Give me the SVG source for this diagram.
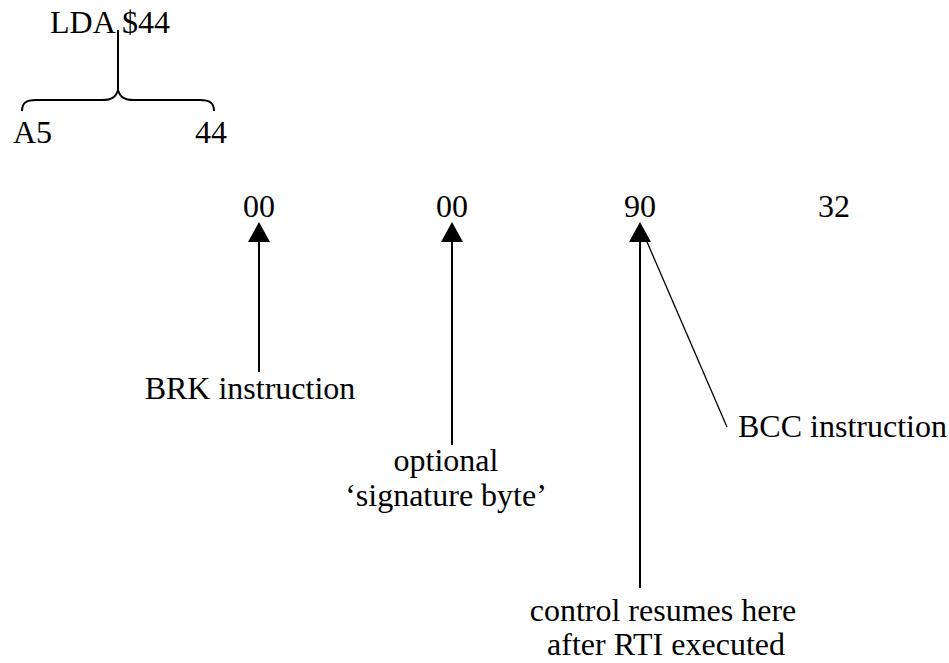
<svg xmlns="http://www.w3.org/2000/svg" width="949" height="663" viewBox="0 0 949 663">
<defs>
<style>
text{font-family:"Liberation Serif","Times New Roman",serif;font-size:32px;fill:#000}
.c{text-anchor:middle}
.ln{stroke:#000;stroke-width:2;fill:none}
.thin{stroke:#000;stroke-width:1.3;fill:none}
</style>
<marker id="ah" viewBox="0 0 20 22" refX="18" refY="11" markerWidth="20" markerHeight="22" markerUnits="userSpaceOnUse" orient="auto">
<path d="M0,0 L20,11 L0,22 Z" fill="#000"/>
</marker>
</defs>
<g id="lda">
<text x="50" y="33">LDA $44</text>
</g>
<g id="brace">
<path class="ln" d="M118,30 V92"/>
<path class="ln" d="M22,111 C22,103 26,100 36,100 H102 C112,100 116,97 118,90 C120,97 124,100 134,100 H200 C210,100 214,103 214,111"/>
</g>
<g id="a5"><text x="13" y="143">A5</text></g>
<g id="b44"><text x="195" y="143">44</text></g>
<g id="byte1"><text class="c" x="259" y="217">00</text></g>
<g id="byte2"><text class="c" x="452" y="217">00</text></g>
<g id="byte3"><text class="c" x="640" y="217">90</text></g>
<g id="byte4"><text class="c" x="834" y="217">32</text></g>
<g id="brk"><text class="c" x="250" y="399">BRK instruction</text></g>
<g id="sig"><text class="c" x="446" y="471">optional</text><text class="c" x="446" y="506">‘signature byte’</text></g>
<g id="bcc"><text x="738" y="437">BCC instruction</text></g>
<g id="ctrl"><text class="c" x="663" y="621">control resumes here</text><text class="c" x="666" y="655">after RTI executed</text></g>
<g id="connectors">
<line class="ln" x1="259" y1="372" x2="259" y2="224" marker-end="url(#ah)"/>
<line class="ln" x1="452" y1="445" x2="452" y2="224" marker-end="url(#ah)"/>
<line class="ln" x1="640" y1="588" x2="640" y2="224" marker-end="url(#ah)"/>
<line class="thin" x1="641" y1="228" x2="727" y2="427"/>
</g>
</svg>
